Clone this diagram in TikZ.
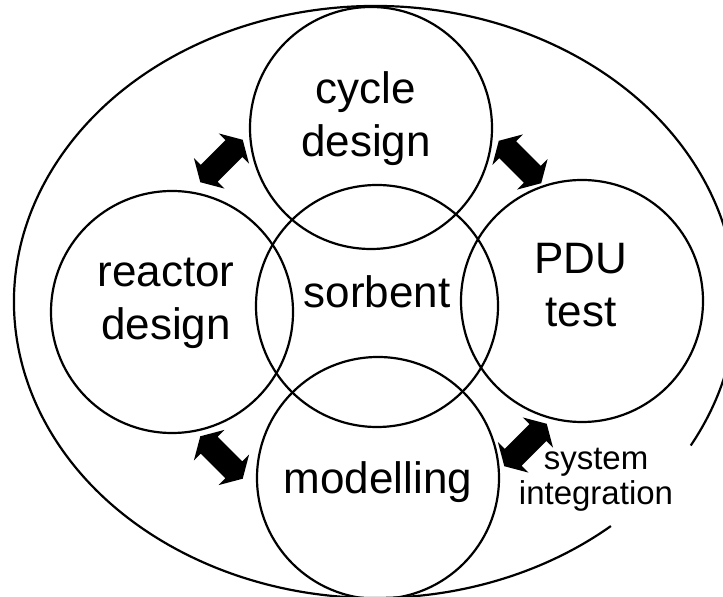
\documentclass[tikz,border=0pt]{standalone}
\usepackage{fontspec}
\setmainfont{Liberation Sans}
\begin{document}
\begin{tikzpicture}[x=1pt,y=1pt,
  ring/.style={draw, circle, line width=2.2pt, minimum size=242pt, inner sep=0pt},
  bigtext/.style={font=\fontsize{44}{53}\selectfont, align=center, anchor=base, inner sep=0pt},
  smalltext/.style={font=\fontsize{33}{35}\selectfont, align=center, anchor=base, inner sep=0pt},
  blockarrow/.pic={\fill[black] (-30,0) -- (-17.5,21.5) -- (-17.5,12) -- (17.5,12) -- (17.5,21.5) -- (30,0) -- (17.5,-21.5) -- (17.5,-12) -- (-17.5,-12) -- (-17.5,-21.5) -- cycle;}]
\useasboundingbox (0,0) rectangle (723,597);
\clip (0,0) rectangle (723,597);
% outer ellipse with a gap near the label
\coordinate (ec) at (375,295);
\draw[line width=2.2pt] (ec) ++(-29:361 and 296) arc[start angle=-29, end angle=310.8, x radius=361, y radius=296];
% circles
\node[ring] (cycle) at (371,469) {};
\node[ring] (reactor) at (172,285) {};
\node[ring] (pdu) at (582,296) {};
\node[ring] (sorbent) at (377,291) {};
\node[ring] (model) at (378,119) {};
% labels (base anchor = baseline of the last line)
\node[bigtext] (tcycle) at (366,440) {cycle\\design};
\node[bigtext] (treactor) at (166,257) {reactor\\design};
\node[bigtext] (tsorbent) at (377,289) {sorbent};
\node[bigtext] (tpdu) at (581,270) {PDU\\test};
\node[bigtext] (tmodel) at (378,103) {modelling};
\node[smalltext] (tsys) at (596,92) {system\\integration};
% double block arrows
\pic[rotate=45] at (221.5,436) {blockarrow};
\pic[rotate=-45] at (520,435) {blockarrow};
\pic[rotate=-45] at (221.5,139.5) {blockarrow};
\pic[rotate=45] at (525.5,152) {blockarrow};
\end{tikzpicture}
\end{document}
